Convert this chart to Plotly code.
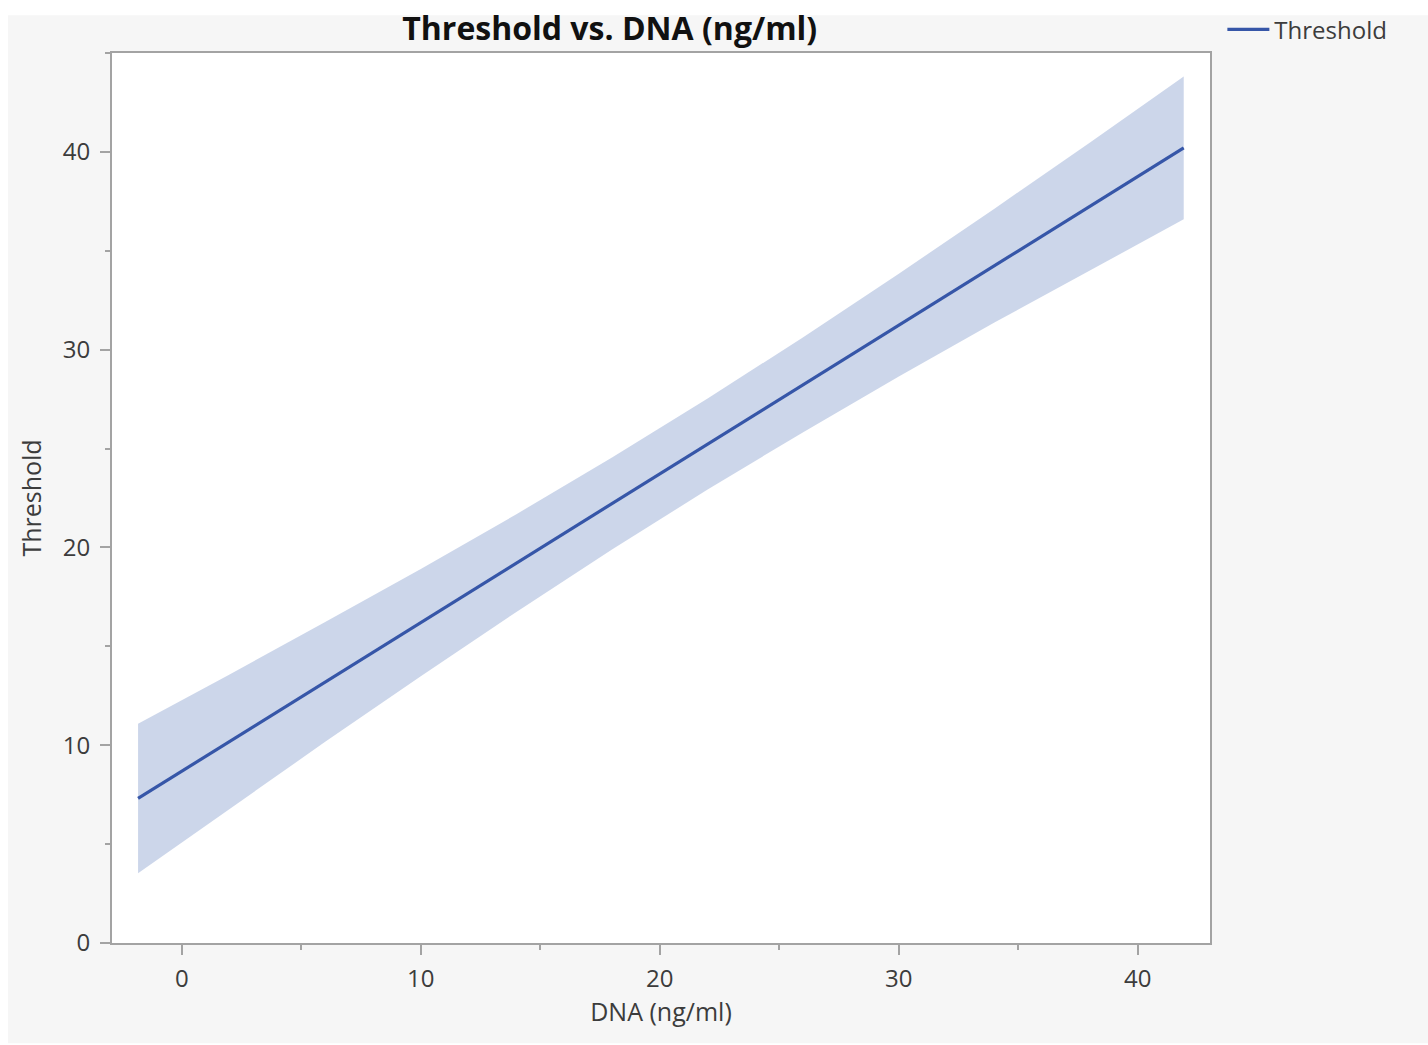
import plotly.graph_objects as go

# Fitted line of Threshold against DNA with its confidence band
dna = [-1.83, 2, 6, 10, 14, 18, 22, 26, 30, 34, 38, 41.92]
threshold_fit = [7.31, 10.19, 13.20, 16.20, 19.21, 22.22, 25.23, 28.23, 31.24, 34.25, 37.25, 40.20]
band_lower = [3.53, 6.80, 10.17, 13.49, 16.74, 19.89, 22.93, 25.83, 28.64, 31.37, 34.02, 36.59]
band_upper = [11.09, 13.58, 16.23, 18.91, 21.68, 24.55, 27.53, 30.63, 33.84, 37.13, 40.48, 43.81]

x_ticks = [0, 10, 20, 30, 40]
y_ticks = [0, 10, 20, 30, 40]

LINE = "#3656a8"
BAND = "rgba(176,192,222,0.65)"
FRAME = "#a3a3a3"
TEXT = "#3c3c3c"
FONT = "Open Sans, Noto Sans, sans-serif"

fig = go.Figure()

# confidence band as a closed polygon
fig.add_trace(go.Scatter(
    x=dna + dna[::-1],
    y=band_upper + band_lower[::-1],
    fill="toself",
    fillcolor=BAND,
    line=dict(width=0),
    mode="lines",
    hoverinfo="skip",
    showlegend=False,
))

fig.add_trace(go.Scatter(
    x=dna, y=threshold_fit,
    mode="lines",
    line=dict(color=LINE, width=3.2),
    name="Threshold",
))

axis_common = dict(
    showline=True, linecolor=FRAME, linewidth=2, mirror=True,
    ticks="outside", ticklen=10, tickwidth=1.5, tickcolor=FRAME,
    showgrid=False, zeroline=False, automargin=False,
    tickfont=dict(family=FONT, size=24, color=TEXT),
    title_font=dict(family=FONT, size=25, color=TEXT),
    minor=dict(ticks="outside", ticklen=5, tickcolor=FRAME, dtick=5, showgrid=False),
)

fig.update_xaxes(
    range=[-2.92, 43.02], tickvals=x_ticks, tick0=0,
    title_text="DNA (ng/ml)", title_standoff=10,
    ticklabelstandoff=3,
    **axis_common,
)
fig.update_yaxes(
    range=[0, 45], tickvals=y_ticks, tick0=0,
    title_text="Threshold", title_standoff=14,
    ticklabelstandoff=5,
    **axis_common,
)

# thin white strips along the page edges
edge_shapes = [
    dict(type="rect", xref="paper", yref="paper", x0=-0.12, x1=1.2, y0=1.0424, y1=1.1,
         fillcolor="white", line_width=0, layer="below"),
    dict(type="rect", xref="paper", yref="paper", x0=-0.12, x1=-0.0947, y0=-0.2, y1=1.1,
         fillcolor="white", line_width=0, layer="below"),
    dict(type="rect", xref="paper", yref="paper", x0=-0.12, x1=1.2, y0=-0.2, y1=-0.1127,
         fillcolor="white", line_width=0, layer="below"),
]

fig.update_layout(
    width=1428, height=1045,
    margin=dict(l=112, r=218, t=53, b=102, autoexpand=False),
    paper_bgcolor="#f6f6f6",
    plot_bgcolor="white",
    title=dict(
        text="<b>Threshold vs. DNA (ng/ml)</b>",
        font=dict(family=FONT, size=32, color="#111111"),
        x=0.427, xref="container", xanchor="center",
        y=0.972, yref="container", yanchor="middle",
    ),
    legend=dict(
        x=0.856, xref="container", xanchor="left",
        y=0.993, yref="container", yanchor="top",
        font=dict(family=FONT, size=24, color=TEXT),
        bgcolor="rgba(0,0,0,0)",
        itemwidth=42,
    ),
    shapes=edge_shapes,
)

fig.write_html("out.html")
